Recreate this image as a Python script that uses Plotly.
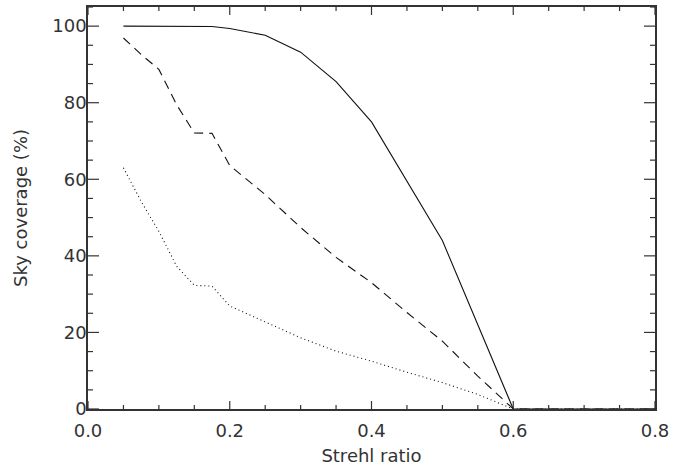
import numpy as np
import plotly.graph_objects as go

strehl = [0.05, 0.075, 0.1, 0.125, 0.15, 0.175, 0.2, 0.25, 0.3, 0.35, 0.4, 0.45, 0.5, 0.55, 0.6, 0.65, 0.7, 0.75, 0.8]
cov_solid = [100, 100, 100, 100, 100, 99.9, 99.4, 97.6, 93.2, 85.5, 75.0, 59.5, 44.0, 22.0, 0, 0, 0, 0, 0]
cov_dashed = [96.9, 92.6, 88.7, 79.5, 72.1, 72.0, 63.6, 56.0, 47.4, 39.6, 33.0, 25.2, 17.7, 8.6, 0, 0, 0, 0, 0]
cov_dotted = [63.0, 54.2, 46.4, 37.3, 32.3, 32.1, 26.9, 22.7, 18.6, 15.1, 12.5, 9.6, 6.9, 3.8, 0, 0, 0, 0, 0]

x_ticks = [0.0, 0.2, 0.4, 0.6, 0.8]
x_labels = ["0.0", "0.2", "0.4", "0.6", "0.8"]
y_ticks = [0, 20, 40, 60, 80, 100]
y_labels = ["0", "20", "40", "60", "80", "100"]
x_range = [0, 0.8]
y_range = [0, 105]

fig = go.Figure()
for ys, dash in [(cov_solid, "solid"), (cov_dashed, "9px,6px"), (cov_dotted, "1px,3px")]:
    fig.add_trace(go.Scatter(x=strehl, y=ys, mode="lines",
                             line=dict(color="#111", width=1.1, dash=dash),
                             cliponaxis=False, showlegend=False, hoverinfo="skip"))

font = dict(family="DejaVu Sans", size=18, color="#333")
axcol = "#333"

# inside tick marks on all four sides (major + minor), drawn as pixel-sized shapes
x_minor = [v for v in np.round(np.arange(x_range[0], x_range[1] + 1e-9, 0.05), 3) if v not in x_ticks]
y_minor = [v for v in np.arange(0, y_range[1] + 1e-9, 5) if v not in y_ticks]
tick_line = dict(color=axcol, width=1.2)
for vals, ln in [(x_ticks, 8), (x_minor, 4)]:
    for v in vals:
        fig.add_shape(type="line", xref="x", yref="y", ysizemode="pixel", yanchor=y_range[0],
                      x0=v, x1=v, y0=0, y1=ln, line=tick_line, layer="above")
        fig.add_shape(type="line", xref="x", yref="y", ysizemode="pixel", yanchor=y_range[1],
                      x0=v, x1=v, y0=0, y1=-ln, line=tick_line, layer="above")
for vals, ln in [(y_ticks, 11), (y_minor, 5)]:
    for v in vals:
        fig.add_shape(type="line", xref="x", yref="y", xsizemode="pixel", xanchor=x_range[0],
                      y0=v, y1=v, x0=0, x1=ln, line=tick_line, layer="above")
        fig.add_shape(type="line", xref="x", yref="y", xsizemode="pixel", xanchor=x_range[1],
                      y0=v, y1=v, x0=0, x1=-ln, line=tick_line, layer="above")

fig.update_layout(
    width=690, height=467,
    margin=dict(l=88, r=35, t=7, b=58, autoexpand=False),
    paper_bgcolor="white", plot_bgcolor="white",
    font=font,
    xaxis=dict(range=x_range, tickvals=x_ticks, ticktext=x_labels, ticks="",
               showline=True, linecolor=axcol, linewidth=1.5, mirror=True,
               showgrid=False, zeroline=False, automargin=False,
               ticklabelstandoff=5,
               title=dict(text="Strehl ratio", standoff=9, font=font),
               tickfont=font),
    yaxis=dict(range=y_range, tickvals=y_ticks, ticktext=y_labels, ticks="",
               showline=True, linecolor=axcol, linewidth=1.5, mirror=True,
               showgrid=False, zeroline=False, automargin=False,
               ticklabelstandoff=-4,
               title=dict(text="Sky coverage (%)", standoff=20, font=font),
               tickfont=font),
)
fig.write_html("out.html", config={"displayModeBar": False},
               post_script="document.body.style.margin='0px';")
